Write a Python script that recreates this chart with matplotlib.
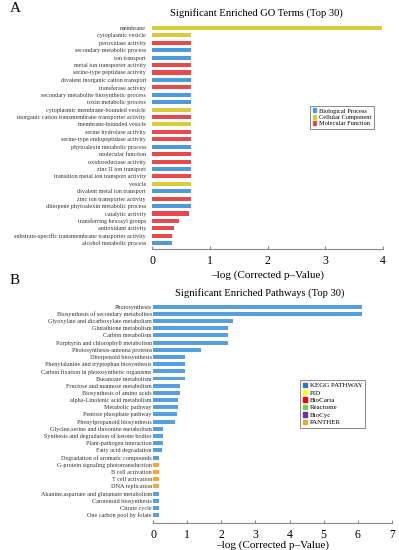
import matplotlib
matplotlib.use("Agg")
import matplotlib.pyplot as plt
import matplotlib.patches as mpatches

plt.rcParams['font.family'] = ['Liberation Serif', 'DejaVu Serif']

BLUE = '#4d9bdc'
YELLOW = '#d8cb3c'
RED = '#e84a4c'
ORANGE = '#f5a731'

# panel A: GO terms
go_terms = ['membrane', 'cytoplasmic vesicle', 'peroxidase activity',
            'secondary metabolic process', 'ion transport',
            'metal ion transporter activity', 'serine-type peptidase activity',
            'divalent inorganic cation transport', 'transferase activity',
            'secondary metabolite biosynthetic process', 'toxin metabolic process',
            'cytoplasmic membrane-bounded vesicle',
            'inorganic cation transmembrane transporter activity',
            'membrane-bounded vesicle', 'serine hydrolase activity',
            'serine-type endopeptidase activity', 'phytoalexin metabolic process',
            'molecular function', 'oxidoreductase activity', 'zinc II ion transport',
            'transition metal ion transport activity', 'vesicle',
            'divalent metal ion transport', 'zinc ion transporter activity',
            'diterpene phytoalexin metabolic process', 'catalytic activity',
            'transferring hexosyl groups', 'antioxidant activity',
            'substrate-specific transmembrane transporter activity',
            'alcohol metabolic process']
go_values = [3.98, 0.67, 0.67, 0.67, 0.67, 0.67, 0.67, 0.67, 0.67, 0.67,
             0.67, 0.67, 0.67, 0.67, 0.67, 0.67, 0.67, 0.67, 0.67, 0.67,
             0.67, 0.67, 0.67, 0.67, 0.67, 0.64, 0.47, 0.38, 0.35, 0.35]
go_class = ['CC', 'CC', 'MF', 'BP', 'BP', 'MF', 'MF', 'BP', 'MF', 'BP',
            'BP', 'CC', 'MF', 'CC', 'MF', 'MF', 'BP', 'MF', 'MF', 'BP',
            'MF', 'CC', 'BP', 'MF', 'BP', 'MF', 'MF', 'MF', 'MF', 'BP']
go_colors = {'BP': BLUE, 'CC': YELLOW, 'MF': RED}

# panel B: pathways
pathways = ['Photosynthesis', 'Biosynthesis of secondary metabolites',
            'Glyoxylate and dicarboxylate metabolism', 'Glutathione metabolism',
            'Carbon metabolism', 'Porphyrin and chlorophyll metabolism',
            'Photosynthesis-antenna proteins', 'Diterpenoid biosynthesis',
            'Phenylalanine and tryptophan biosynthesis',
            'Carbon fixation in photosynthetic organisms', 'Butanoate metabolism',
            'Fructose and mannose metabolism', 'Biosynthesis of amino acids',
            'alpha-Linolenic acid metabolism', 'Metabolic pathway',
            'Pentose phosphate pathway', 'Phenylpropanoid biosynthesis',
            'Glycine,serine and threonine metabolism',
            'Synthesis and degradation of ketone bodies',
            'Plant-pathogen interaction', 'Fatty acid degradation',
            'Degradation of aromatic compounds',
            'G-protein signaling phototransduction', 'B cell activation',
            'T cell activation', 'DNA replication',
            'Akanine,aspartate and glutamate metabolism',
            'Carotenoid biosynthesis', 'Citrate cycle', 'One carbon pool by folate']
pw_values = [6.13, 6.13, 2.33, 2.19, 2.19, 2.19, 1.42, 0.93, 0.93, 0.93,
             0.93, 0.79, 0.79, 0.73, 0.73, 0.69, 0.64, 0.28, 0.28, 0.28,
             0.26, 0.18, 0.18, 0.18, 0.18, 0.18, 0.18, 0.18, 0.18, 0.18]
pw_source = ['KEGG'] * 22 + ['PANTHER'] * 4 + ['KEGG'] * 4
pw_colors = {'KEGG': '#55a0de', 'PANTHER': ORANGE}

legend_b = [('KEGG PATHWAY', '#3b6fc6'), ('PID', '#ffff00'), ('BioCarta', '#ff0000'),
            ('Reactome', '#7ec850'), ('BioCyc', '#6a2fa0'), ('PANTHER', '#f0a830')]

fig = plt.figure(figsize=(3.99, 5.5), dpi=100)


def style(ax, xmax, n, lpad, ypad):
    ax.set_xlim(0, xmax)
    ax.set_ylim(n - 0.2, -0.8)
    for s in ['top', 'right', 'left']:
        ax.spines[s].set_visible(False)
    ax.spines['bottom'].set_color('#888888')
    ax.spines['bottom'].set_linewidth(0.8)
    ax.tick_params(axis='y', length=0, labelsize=4.4, pad=ypad, colors='#333333')
    ax.tick_params(axis='x', direction='in', length=2.5, color='#888888',
                   labelsize=8.5, pad=4)
    ax.set_xlabel('\u2013log (Corrected p\u2013Value)', fontsize=8, labelpad=lpad)


axA = fig.add_axes([0.381, 0.547, 0.579, 0.413])
ya = list(range(len(go_terms)))
axA.barh(ya, go_values, height=0.55, color=[go_colors[c] for c in go_class])
axA.set_yticks(ya)
axA.set_yticklabels(go_terms)
style(axA, 4, len(go_terms), 3, 4.3)
axA.set_xticks(range(5))
fig.text(256 / 399, 1 - 13 / 550, 'Significant Enriched GO Terms (Top 30)',
         fontsize=7.6, ha='center', va='center')
handles_a = [mpatches.Patch(color=BLUE, label='Biological Process'),
             mpatches.Patch(color=YELLOW, label='Cellular Component'),
             mpatches.Patch(color=RED, label='Molecular Function')]
axA.legend(handles=handles_a, loc='upper left', bbox_to_anchor=(0.67, 0.645),
           fontsize=4.6, frameon=True, fancybox=False, edgecolor='#555555',
           handlelength=0.6, handleheight=0.6, handletextpad=0.4,
           borderpad=0.4, labelspacing=0.15).get_frame().set_linewidth(0.6)
fig.text(0.025, 0.984, 'A', fontsize=11, va='center')

axB = fig.add_axes([0.3835, 0.049, 0.599, 0.404])
yb = list(range(len(pathways)))
axB.barh(yb, pw_values, height=0.55, color=[pw_colors[s] for s in pw_source])
axB.set_yticks(yb)
axB.set_yticklabels(pathways)
style(axB, 7, len(pathways) + 0.3, 0, 0.8)
axB.set_xticks(range(8))
fig.text(260 / 399, 1 - 293 / 550, 'Significant Enriched Pathways (Top 30)',
         fontsize=7.6, ha='center', va='center')
handles_b = [mpatches.Patch(color=c, label=l) for l, c in legend_b]
axB.legend(handles=handles_b, loc='upper left', bbox_to_anchor=(0.6, 0.66),
           fontsize=5, frameon=True, fancybox=False, edgecolor='#555555',
           handlelength=0.6, handleheight=0.6, handletextpad=0.4,
           borderpad=0.4, labelspacing=0.25).get_frame().set_linewidth(0.6)
fig.text(0.025, 0.49, 'B', fontsize=11, va='center')

fig.savefig('out.png', dpi=100)
